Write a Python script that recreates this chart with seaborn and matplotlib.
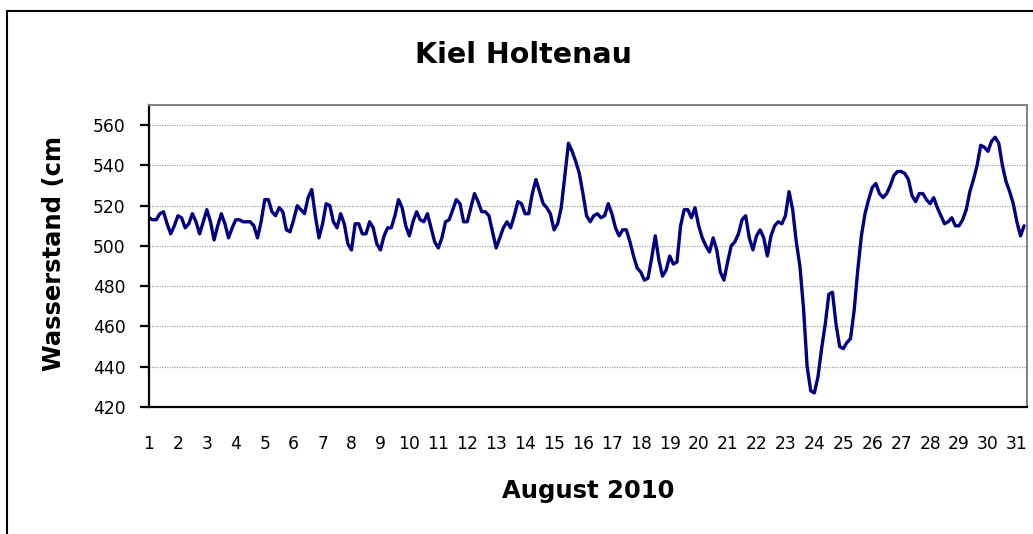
import numpy as np
import pandas as pd
import seaborn as sns
import matplotlib.pyplot as plt
from matplotlib.patches import Rectangle

# water level Kiel Holtenau, August 2010, one value every 3 hours (cm)
levels = [
    514, 513, 513, 516, 517, 511, 506, 510,   # 1
    515, 514, 509, 511, 516, 512, 506, 512,   # 2
    518, 512, 503, 510, 516, 511, 504, 509,   # 3
    513, 513, 512, 512, 512, 510, 504, 512,   # 4
    523, 523, 517, 515, 519, 517, 508, 507,   # 5
    513, 520, 518, 516, 524, 528, 515, 504,   # 6
    511, 521, 520, 512, 509, 516, 511, 501,   # 7
    498, 511, 511, 506, 506, 512, 509, 501,   # 8
    498, 505, 509, 509, 515, 523, 519, 510,   # 9
    505, 512, 517, 513, 512, 516, 509, 502,   # 10
    499, 504, 512, 513, 518, 523, 521, 512,   # 11
    512, 519, 526, 522, 517, 517, 515, 507,   # 12
    499, 504, 509, 512, 509, 515, 522, 521,   # 13
    516, 516, 526, 533, 527, 521, 519, 516,   # 14
    508, 511, 519, 535, 551, 547, 542, 536,   # 15
    526, 515, 512, 515, 516, 514, 515, 521,   # 16
    516, 509, 505, 508, 508, 502, 495, 489,   # 17
    487, 483, 484, 494, 505, 493, 485, 488,   # 18
    495, 491, 492, 510, 518, 518, 514, 519,   # 19
    510, 504, 500, 497, 504, 498, 487, 483,   # 20
    492, 500, 502, 506, 513, 515, 504, 498,   # 21
    505, 508, 504, 495, 505, 510, 512, 511,   # 22
    515, 527, 518, 502, 490, 469, 440, 428,   # 23
    427, 435, 449, 461, 476, 477, 461, 450,   # 24
    449, 452, 454, 468, 488, 505, 516, 523,   # 25
    529, 531, 526, 524, 526, 530, 535, 537,   # 26
    537, 536, 533, 525, 522, 526, 526, 523,   # 27
    521, 524, 519, 515, 511, 512, 514, 510,   # 28
    510, 513, 518, 527, 533, 540, 550, 549,   # 29
    547, 552, 554, 551, 540, 532, 527, 521,   # 30
    512, 505, 510,                            # 31
]
hours = np.arange(len(levels)) * 3
day = 1 + hours / 24.0
df = pd.DataFrame({"Tag": day, "Wasserstand": levels})

day_ticks = list(range(1, 32))
level_ticks = [420, 440, 460, 480, 500, 520, 540, 560]

sns.set_style("ticks")
plt.rcParams['font.family'] = ['DejaVu Sans']
plt.rcParams['text.color'] = 'black'
plt.rcParams['axes.labelcolor'] = 'black'
plt.rcParams['xtick.color'] = 'black'
plt.rcParams['ytick.color'] = 'black'

fig = plt.figure(figsize=(10.33, 5.34), dpi=100)
ax = fig.add_axes([149/1033, 1 - 407/534, 878/1033, 302/534])

sns.lineplot(data=df, x="Tag", y="Wasserstand", ax=ax, color="#000080", linewidth=2.4)

ax.set_xlim(1, 1 + 242.8/8)
ax.set_ylim(420, 570)
ax.set_xticks(day_ticks)
ax.set_xticklabels([str(d) for d in day_ticks])
ax.set_yticks(level_ticks)
ax.yaxis.grid(True, color="#a0a0a0", linestyle=(0, (1, 1)), linewidth=0.9)
ax.xaxis.grid(False)

ax.tick_params(axis="x", bottom=False, length=0, pad=20, labelsize=12.3)
ax.tick_params(axis="y", left=True, right=False, length=6, width=1.4,
               direction="out", pad=11, labelsize=12.3, color="black")

# outward tick marks on the value axis, drawn as short strokes left of the axis
for lv in level_ticks:
    ax.plot([-9/878, 0], [lv, lv], transform=ax.get_yaxis_transform(),
            color="black", linewidth=1.6, clip_on=False, solid_capstyle="butt")

for s in ["left", "bottom"]:
    ax.spines[s].set_color("black")
    ax.spines[s].set_linewidth(1.6)
for s in ["top", "right"]:
    ax.spines[s].set_color("#808080")
    ax.spines[s].set_linewidth(1.4)

ax.set_xlabel("August 2010", fontsize=17.5, fontweight="bold")
ax.xaxis.set_label_coords(0.5, (407 - 490.7) / 302)
ax.xaxis.label.set_va("center")
ax.set_ylabel("Wasserstand (cm", fontsize=17.5, fontweight="bold")
ax.yaxis.set_label_coords((54 - 149) / 878, (407 - 253.5) / 302)
ax.yaxis.label.set_va("center")

fig.text(523/1033, 1 - 55/534, "Kiel Holtenau", fontsize=20.5, fontweight="bold",
         ha="center", va="center", color="black")

# chart area border (runs off the right and bottom of the image)
border = Rectangle((7/1033, -1), 2, 1 + (1 - 11/534), transform=fig.transFigure,
                   fill=False, edgecolor="black", linewidth=1.5, clip_on=False)
fig.add_artist(border)

fig.savefig("out.png", dpi=100)
